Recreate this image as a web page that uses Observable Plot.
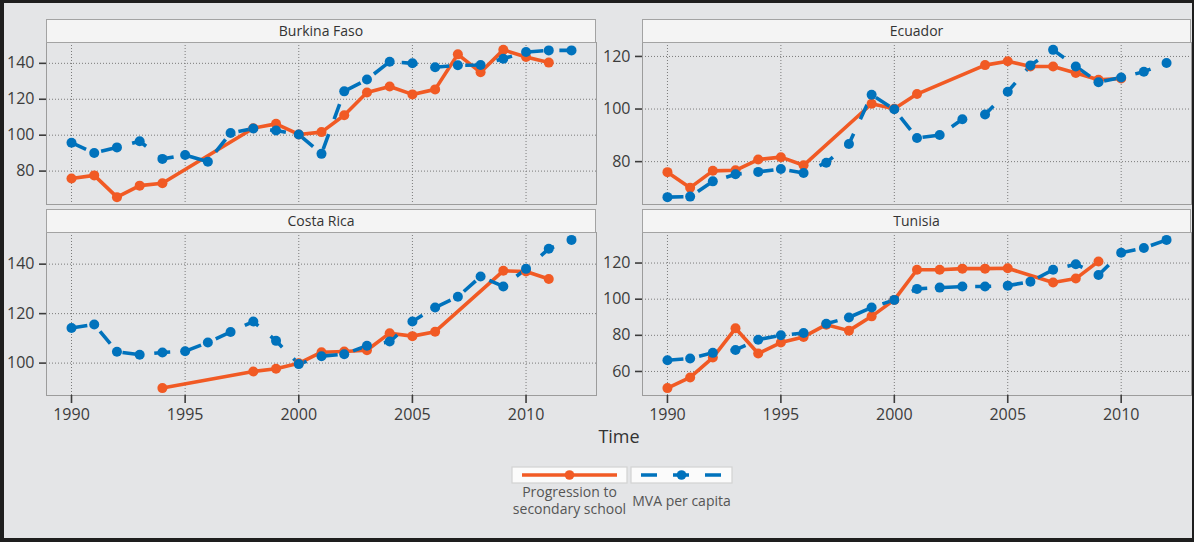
<!DOCTYPE html>
<html>
<head>
<meta charset="utf-8">
<script src="https://cdn.jsdelivr.net/npm/d3@7"></script>
<script src="https://cdn.jsdelivr.net/npm/@observablehq/plot@0.6"></script>
<style>
  html, body { margin: 0; padding: 0; background: #e4e5e7; }
  #chart { position: relative; width: 1194px; height: 542px; background: #e4e5e7; overflow: hidden;
           font-family: "Open Sans", "Noto Sans", sans-serif; }
  #chart .outline { position: absolute; left: 0; top: 0; width: 1194px; height: 542px; box-sizing: border-box;
           border-style: solid; border-color: #1e1e1e; border-width: 3px 2px 4px 4px; pointer-events: none; z-index: 10; }
  .panel { position: absolute; }
  .strip { position: absolute; box-sizing: border-box; background: #f4f4f4; border: 1px solid #a3a3a3;
           color: #333; font-size: 14px; display: flex; align-items: center; justify-content: center; }
  #overlay { position: absolute; left: 0; top: 0; }
</style>
</head>
<body>
<div id="chart"><div class="outline"></div></div>
<script>
// Years shared by every country panel
const years = [1990, 1991, 1992, 1993, 1994, 1995, 1996, 1997, 1998, 1999, 2000, 2001,
               2002, 2003, 2004, 2005, 2006, 2007, 2008, 2009, 2010, 2011, 2012];
const xTicks = [1990, 1995, 2000, 2005, 2010];

// Index values per country (null = no observation)
const burkinaProgression = [75.9, 77.6, 65.5, 71.9, 73.2, null, null, null, 103.9, 106.3, 100.4, 101.7,
                            111.1, 123.8, 127.1, 122.7, 125.5, 145.0, 135.0, 147.5, 143.5, 140.4, null];
const burkinaMva = [95.8, 90.1, 93.2, 96.6, 86.8, 89.0, 85.2, 101.2, 103.7, 102.6, 100.4, 89.6,
                    124.4, 131.0, 140.9, 140.0, 137.8, 138.9, 139.1, 142.6, 146.3, 147.2, 147.2];

const ecuadorProgression = [76.0, 70.1, 76.5, 76.7, 80.8, 81.7, 78.6, null, null, 102.0, 100.1, 105.7,
                            null, null, 116.7, 118.2, 116.2, 116.2, 113.7, 111.1, 111.6, null, null];
const ecuadorMva = [66.5, 66.7, 72.5, 75.2, 76.1, 77.2, 75.7, 79.6, 86.7, 105.4, 99.9, 89.0,
                    90.1, 96.1, 97.9, 106.6, 116.6, 122.5, 116.2, 110.2, 112.0, 114.2, 117.5];

const costaRicaProgression = [null, null, null, null, 89.9, null, null, null, 96.6, 97.7, 99.9, 104.4,
                             104.7, 105.2, 112.1, 110.9, 112.7, null, null, 137.3, 137.0, 134.0, null];
const costaRicaMva = [114.2, 115.6, 104.6, 103.4, 104.3, 104.8, 108.3, 112.6, 116.8, 109.0, 99.6, 102.8,
                      103.6, 107.0, 108.7, 116.8, 122.5, 126.8, 135.0, 131.0, 138.1, 146.2, 149.8];

const tunisiaProgression = [50.8, 56.7, 67.7, 83.9, 69.9, 76.0, 79.1, 85.9, 82.6, 90.5, 99.6, 116.3,
                            116.3, 116.9, 116.9, 117.1, null, 109.2, 111.4, 120.9, null, null, null];
const tunisiaMva = [66.2, 67.2, 70.3, 71.9, 77.6, 80.0, 81.3, 86.4, 89.9, 95.4, 99.6, 105.7,
                    106.4, 107.0, 107.0, 107.5, 109.7, 116.3, 119.3, 113.4, 125.7, 128.3, 132.8];

// y-axis tick labels per panel
const burkinaTicks = [80, 100, 120, 140];
const ecuadorTicks = [80, 100, 120];
const costaRicaTicks = [100, 120, 140];
const tunisiaTicks = [60, 80, 100, 120];

const seriesNames = ["Progression to secondary school", "MVA per capita"];
const orange = "#f15a24";
const blue = "#0072bc";
const dashes = "16,16";

const chart = document.getElementById("chart");

// ggplot-style 5% expansion of a continuous range
function expand([lo, hi], f = 0.05) {
  const p = (hi - lo) * f;
  return [lo - p, hi + p];
}

const xDomain = expand(d3.extent(years));

function toRows(values, series) {
  return years.map((year, i) => ({year, value: values[i], series})).filter(d => d.value != null);
}

function panel({name, progression, mva, yTicks, left, right, top, bottom, xAxis}) {
  const mL = 46, mR = 2, mT = 2, mB = xAxis ? 46 : 2;
  const prog = toRows(progression, seriesNames[0]);
  const mv = toRows(mva, seriesNames[1]);
  const yDomain = expand(d3.extent([...prog, ...mv], d => d.value));

  const marks = [
    Plot.gridX({ticks: xTicks, stroke: "#7a7a7a", strokeOpacity: 1, strokeDasharray: "1,2"}),
    Plot.gridY({ticks: yTicks, stroke: "#7a7a7a", strokeOpacity: 1, strokeDasharray: "1,2"}),
    Plot.frame({stroke: "#9c9c9c", strokeWidth: 1}),
    Plot.axisY({ticks: yTicks, tickSize: 7, tickPadding: 5, fontSize: 16, color: "#3c3c3c",
                strokeWidth: 1.6, label: null}),
    Plot.line(prog, {x: "year", y: "value", stroke: orange, strokeWidth: 3.6, strokeLinejoin: "round"}),
    Plot.line(mv, {x: "year", y: "value", stroke: blue, strokeWidth: 3.6, strokeDasharray: dashes,
                   strokeLinecap: "butt", strokeLinejoin: "round"}),
    Plot.dot(prog, {x: "year", y: "value", r: 5, fill: orange, stroke: null}),
    Plot.dot(mv, {x: "year", y: "value", r: 5, fill: blue, stroke: null})
  ];
  if (xAxis) {
    marks.push(Plot.axisX({ticks: xTicks, tickFormat: "d", tickSize: 8, tickPadding: 5, fontSize: 16,
                           color: "#3c3c3c", strokeWidth: 1.6, label: null}));
  }

  const svg = Plot.plot({
    width: mL + (right - left) + mR,
    height: mT + (bottom - top) + mB,
    marginLeft: mL, marginRight: mR, marginTop: mT, marginBottom: mB,
    x: xAxis ? {domain: xDomain} : {domain: xDomain, axis: null},
    y: {domain: yDomain},
    style: {background: "transparent", fontFamily: "'Open Sans', 'Noto Sans', sans-serif", overflow: "visible"},
    marks
  });
  svg.classList.add("panel");
  svg.style.left = (left - mL) + "px";
  svg.style.top = (top - mT) + "px";
  chart.appendChild(svg);

  const strip = document.createElement("div");
  strip.className = "strip";
  strip.textContent = name;
  strip.style.left = left + "px";
  strip.style.width = (right - left) + "px";
  strip.style.top = (top - 23) + "px";
  strip.style.height = "23.5px";
  chart.appendChild(strip);
}

panel({name: "Burkina Faso", progression: burkinaProgression, mva: burkinaMva, yTicks: burkinaTicks,
       left: 46, right: 596, top: 42, bottom: 204, xAxis: false});
panel({name: "Ecuador", progression: ecuadorProgression, mva: ecuadorMva, yTicks: ecuadorTicks,
       left: 642, right: 1191, top: 42, bottom: 204, xAxis: false});
panel({name: "Costa Rica", progression: costaRicaProgression, mva: costaRicaMva, yTicks: costaRicaTicks,
       left: 46, right: 596, top: 232, bottom: 395, xAxis: true});
panel({name: "Tunisia", progression: tunisiaProgression, mva: tunisiaMva, yTicks: tunisiaTicks,
       left: 642, right: 1191, top: 232, bottom: 395, xAxis: true});

// Shared axis title and legend
const overlay = d3.select(chart).append("svg")
  .attr("id", "overlay").attr("width", 1194).attr("height", 542)
  .style("font-family", "'Open Sans', 'Noto Sans', sans-serif");

overlay.append("text").attr("x", 619).attr("y", 443).attr("text-anchor", "middle")
  .attr("font-size", 18).attr("fill", "#333").text("Time");

const keys = [
  {x: 512, w: 115, color: orange, dash: null, label: ["Progression to", "secondary school"]},
  {x: 631, w: 101, color: blue, dash: dashes, label: [seriesNames[1]]}
];
keys.forEach(k => {
  const g = overlay.append("g");
  g.append("rect").attr("x", k.x).attr("y", 467).attr("width", k.w).attr("height", 16)
    .attr("fill", "#fbfbfb").attr("stroke", "#d2d2d2").attr("stroke-width", 1.2);
  g.append("line").attr("x1", k.x + 10).attr("x2", k.x + k.w - 10).attr("y1", 475).attr("y2", 475)
    .attr("stroke", k.color).attr("stroke-width", 3.4).attr("stroke-dasharray", k.dash);
  g.append("circle").attr("cx", k.x + k.w / 2).attr("cy", 475).attr("r", 4.8).attr("fill", k.color);
  const base = k.label.length === 2 ? 496.5 : 505.5;
  k.label.forEach((t, i) => {
    g.append("text").attr("x", k.x + k.w / 2).attr("y", base + i * 17).attr("text-anchor", "middle")
      .attr("font-size", 14).attr("fill", "#555").text(t);
  });
});
</script>
</body>
</html>
